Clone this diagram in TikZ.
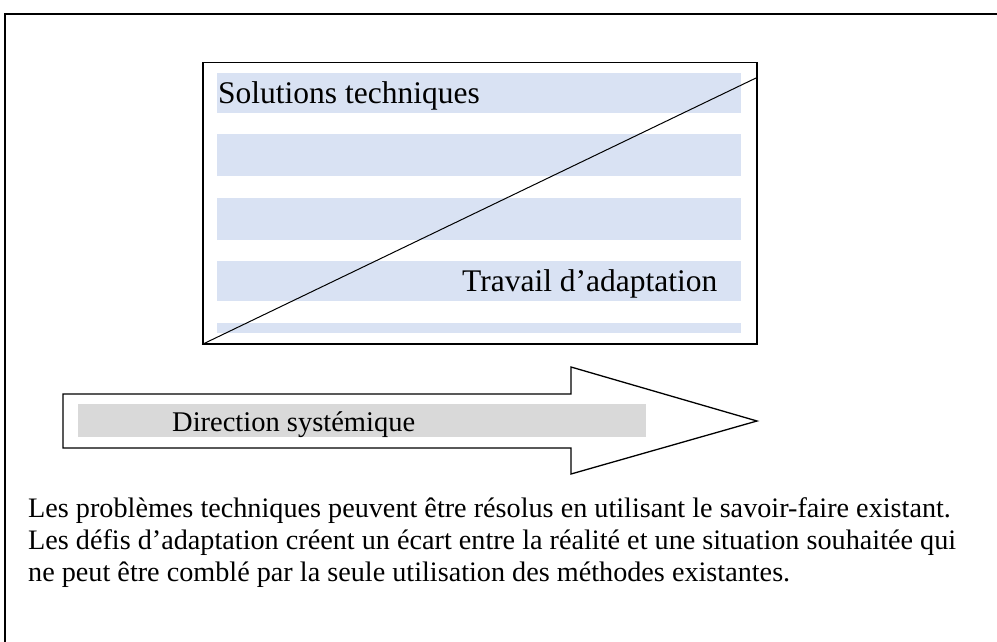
\documentclass[tikz,border=0pt]{standalone}
\usepackage{fontspec}
\setmainfont{Liberation Serif}
\definecolor{bandblue}{HTML}{D9E2F3}
\definecolor{bargray}{HTML}{D9D9D9}
\begin{document}
\begin{tikzpicture}[x=1pt,y=-1pt,
  label/.style={anchor=base west,inner sep=0pt,font=\fontsize{31.5}{36}\selectfont},
  para/.style={anchor=base west,inner sep=0pt,font=\fontsize{28.2}{32}\selectfont},
  band/.style={fill=bandblue},
]
\useasboundingbox (0,0) rectangle (997,642);
% outer frame (right and bottom edges outside the picture)
\draw[line width=2pt] (5,642) -- (5,14) -- (997,14);
% blue bands
\fill[band] (217,73) rectangle (741,113);
\fill[band] (217,134) rectangle (741,176);
\fill[band] (217,198) rectangle (741,240);
\fill[band] (217,261) rectangle (741,301);
\fill[band] (217,323) rectangle (741,333);
% box and diagonal
\node[draw,line width=1.5pt,minimum width=554pt,minimum height=281pt,inner sep=0pt,anchor=north west] (box) at (202,62) {};
\coordinate (dstart) at (box.south west);
\coordinate (dend) at (756,78);
\draw[line width=1pt] (dstart) -- (dend);
\node[label] (sol) at (218,103) {Solutions techniques};
\node[label] (trav) at (462,291) {Travail d’adaptation};
% arrow
\draw[line width=1.3pt,fill=white] (63,394) -- (571,394) -- (571,367) -- (757,421) -- (571,474) -- (571,448) -- (63,448) -- cycle;
\fill[bargray] (78,404) rectangle (646,437);
\node[para,font=\fontsize{28.5}{32}\selectfont] (dir) at (172,431) {Direction systémique};
% paragraph
\node[para] (p1) at (28,517) {Les problèmes techniques peuvent être résolus en utilisant le savoir-faire existant.};
\node[para] (p2) at (28,549) {Les défis d’adaptation créent un écart entre la réalité et une situation souhaitée qui};
\node[para] (p3) at (28,581) {ne peut être comblé par la seule utilisation des méthodes existantes.};
\end{tikzpicture}
\end{document}
